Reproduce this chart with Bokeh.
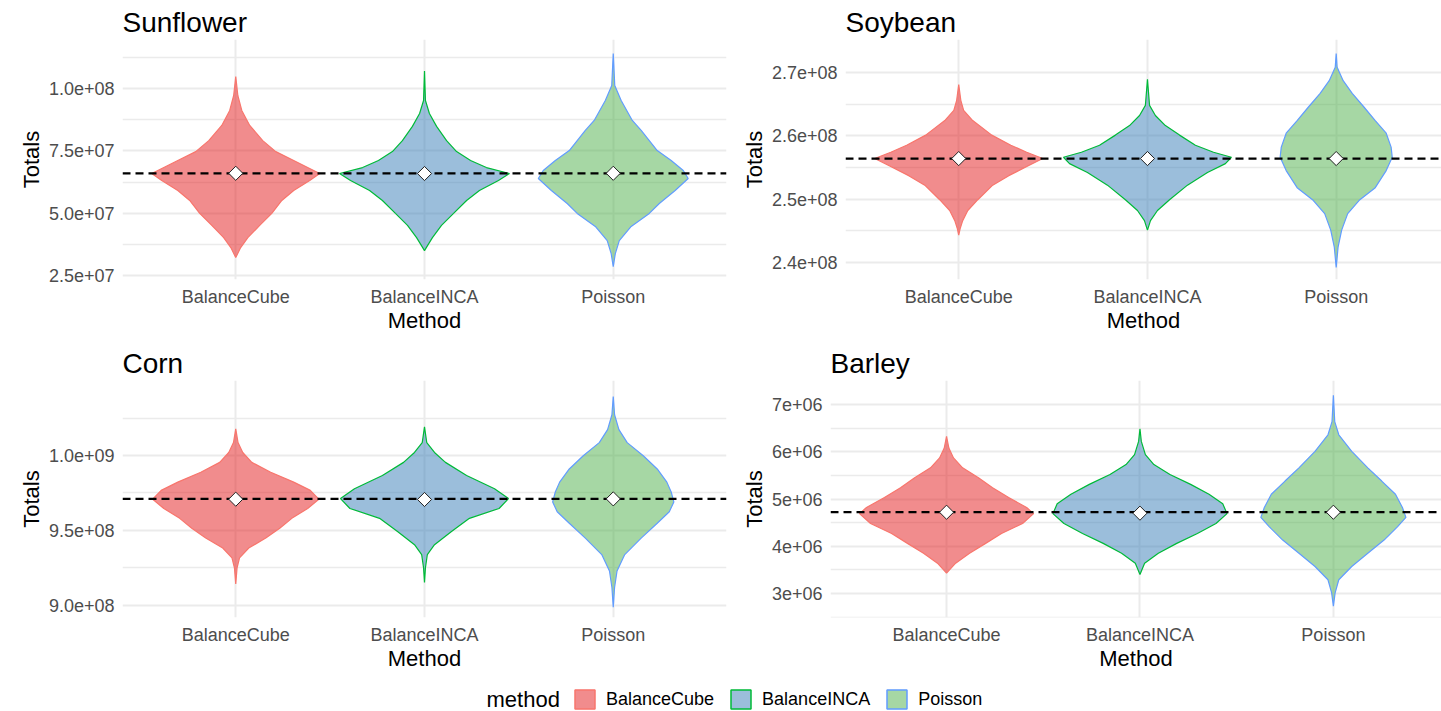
import math
from bokeh.plotting import figure
from bokeh.layouts import column, row
from bokeh.models import FixedTicker, Range1d, Span, Legend, LegendItem, Label
from bokeh.embed import file_html
from bokeh.resources import INLINE

# ---------------- data ----------------
METHODS = ["BalanceCube", "BalanceINCA", "Poisson"]
CROPS = ["Sunflower", "Soybean", "Corn", "Barley"]

# true totals (dashed lines) and estimated means (diamonds), in units of 1e6
TRUE_TOTAL = {"Sunflower": 66.0, "Soybean": 256.4, "Corn": 971.0, "Barley": 4.72}
MEANS = {
    "Sunflower": [66.0, 65.9, 66.0],
    "Soybean": [256.4, 256.4, 256.4],
    "Corn": [970.8, 970.6, 971.0],
    "Barley": [4.72, 4.70, 4.72],
}

# violin outlines: value (1e6) and half-width (category units)
SUNFLOWER_V = {
    "BalanceCube": [104.8, 97.2, 91.2, 85.2, 79.1, 74.7, 71.1, 68.3, 65.9, 63.1, 59.1, 55.1, 49.9, 45.1, 40.2, 36.2, 32.2],
    "BalanceINCA": [107.0, 95.2, 90.0, 84.8, 79.1, 74.7, 71.1, 68.3, 65.9, 63.1, 59.1, 55.1, 49.9, 45.1, 40.2, 37.0, 35.0],
    "Poisson": [114.0, 101.2, 95.2, 87.2, 83.2, 79.1, 75.1, 71.1, 67.1, 63.9, 59.1, 53.9, 49.9, 44.7, 39.0, 33.8, 28.6],
}
SUNFLOWER_W = {
    "BalanceCube": [0, .011, .032, .074, .143, .212, .307, .381, .445, .392, .307, .244, .191, .127, .064, .026, 0],
    "BalanceINCA": [0, .005, .026, .064, .117, .170, .244, .328, .450, .392, .291, .223, .154, .090, .042, .016, 0],
    "Poisson": [0, .008, .042, .101, .148, .191, .233, .307, .371, .397, .328, .244, .191, .095, .032, .011, 0],
}
SOYBEAN_V = {
    "BalanceCube": [268.1, 265.6, 264.0, 262.4, 260.1, 258.5, 257.4, 256.4, 255.3, 253.7, 252.2, 249.9, 248.2, 246.6, 245.4, 244.3],
    "BalanceINCA": [268.9, 264.8, 263.2, 261.6, 260.1, 258.5, 257.4, 256.6, 255.6, 254.2, 252.2, 249.9, 248.2, 246.6, 245.1],
    "Poisson": [273.0, 270.8, 268.7, 266.7, 264.5, 262.4, 260.4, 258.2, 256.6, 254.5, 251.8, 249.8, 247.7, 245.1, 242.4, 239.2],
}
SOYBEAN_W = {
    "BalanceCube": [0, .011, .026, .074, .175, .276, .360, .445, .371, .265, .180, .101, .048, .021, .008, 0],
    "BalanceINCA": [0, .011, .042, .095, .170, .254, .350, .445, .413, .318, .212, .117, .053, .016, 0],
    "Poisson": [0, .005, .037, .085, .148, .207, .265, .291, .297, .265, .207, .122, .061, .029, .010, 0],
}
CORN_V = {
    "BalanceCube": [1017.8, 1008.6, 1002.0, 995.4, 988.8, 982.2, 976.7, 970.8, 964.6, 958.0, 951.4, 944.8, 938.2, 931.6, 925.0, 914.1],
    "BalanceINCA": [1019.1, 1008.6, 1002.0, 995.4, 986.6, 977.8, 971.2, 964.6, 958.0, 949.2, 940.4, 933.8, 925.0, 915.1],
    "Poisson": [1039.4, 1027.2, 1017.3, 1008.6, 999.8, 991.0, 982.2, 975.6, 969.0, 962.4, 954.7, 944.8, 933.8, 922.8, 911.8, 898.6],
}
CORN_W = {
    "BalanceCube": [0, .012, .037, .085, .185, .307, .395, .440, .381, .297, .233, .159, .069, .020, .007, 0],
    "BalanceINCA": [0, .012, .053, .111, .223, .371, .445, .395, .238, .143, .053, .015, .005, 0],
    "Poisson": [0, .007, .030, .074, .159, .233, .284, .307, .321, .297, .233, .148, .061, .020, .007, 0],
}
BARLEY_V = {
    "BalanceCube": [6.324, 6.08, 5.87, 5.66, 5.45, 5.24, 5.03, 4.82, 4.69, 4.48, 4.27, 4.06, 3.85, 3.64, 3.43],
    "BalanceINCA": [6.485, 6.22, 5.94, 5.73, 5.52, 5.31, 5.10, 4.90, 4.69, 4.48, 4.27, 4.06, 3.85, 3.64, 3.40],
    "Poisson": [7.197, 6.64, 6.36, 6.01, 5.66, 5.38, 5.10, 4.82, 4.61, 4.41, 4.13, 3.85, 3.57, 3.29, 3.01, 2.73],
}
BARLEY_W = {
    "BalanceCube": [0, .012, .036, .083, .165, .238, .321, .414, .450, .393, .284, .202, .119, .047, 0],
    "BalanceINCA": [0, .007, .028, .072, .155, .262, .357, .428, .450, .393, .297, .190, .095, .024, 0],
    "Poisson": [0, .007, .028, .095, .178, .250, .321, .357, .375, .331, .262, .178, .095, .028, .009, 0],
}

# axis ticks (values in 1e6) and their labels
SUNFLOWER_TICKS = [25.0, 50.0, 75.0, 100.0]
SUNFLOWER_LABELS = ["2.5e+07", "5.0e+07", "7.5e+07", "1.0e+08"]
SUNFLOWER_MINOR = [37.5, 62.5, 87.5, 112.5]
SOYBEAN_TICKS = [240.0, 250.0, 260.0, 270.0]
SOYBEAN_LABELS = ["2.4e+08", "2.5e+08", "2.6e+08", "2.7e+08"]
SOYBEAN_MINOR = [245.0, 255.0, 265.0]
CORN_TICKS = [900.0, 950.0, 1000.0]
CORN_LABELS = ["9.0e+08", "9.5e+08", "1.0e+09"]
CORN_MINOR = [925.0, 975.0, 1025.0]
BARLEY_TICKS = [3.0, 4.0, 5.0, 6.0, 7.0]
BARLEY_LABELS = ["3e+06", "4e+06", "5e+06", "6e+06", "7e+06"]
BARLEY_MINOR = [2.5, 3.5, 4.5, 5.5, 6.5]

# ---------------- style ----------------
FILL = ["#E41A1C", "#377EB8", "#4DAF4A"]
LINE = ["#F8766D", "#00BA38", "#619CFF"]
FONT = "Liberation Sans"
GRID = "#EBEBEB"
SCALE = 1e6
POSITIONS = list(range(1, len(METHODS) + 1))


def polygon(pos, v, wd):
    xs = [pos + a for a in wd] + [pos - a for a in reversed(wd)]
    ys = [b * SCALE for b in v] + [b * SCALE for b in reversed(v)]
    return xs, ys


def panel(name, vals, wids, ticks, labels, minor, yr, xmax, w, h, left, right, top, bottom):
    p = figure(width=w, height=h, output_backend="svg", toolbar_location=None,
               x_range=Range1d(0.4, xmax), y_range=Range1d(yr[0] * SCALE, yr[1] * SCALE),
               min_border_left=left, min_border_right=right,
               min_border_top=top, min_border_bottom=bottom)
    p.outline_line_color = None
    p.background_fill_color = "white"
    p.border_fill_color = "white"
    p.title.text = name
    p.title.text_font = FONT
    p.title.text_font_size = "28px"
    p.title.text_font_style = "normal"
    p.title.text_color = "black"
    p.title.align = "left"
    p.title.standoff = 3
    p.title.offset = 0

    p.xaxis.ticker = FixedTicker(ticks=POSITIONS)
    p.xaxis.major_label_overrides = {i: m for i, m in zip(POSITIONS, METHODS)}
    yt = [int(round(t * SCALE)) for t in ticks]
    p.yaxis.ticker = FixedTicker(ticks=yt, minor_ticks=[m * SCALE for m in minor])
    p.yaxis.major_label_overrides = {t: l for t, l in zip(yt, labels)}
    p.xaxis.axis_label = "Method"
    p.yaxis.axis_label = "Totals"
    for ax in (p.xaxis[0], p.yaxis[0]):
        ax.axis_line_color = None
        ax.major_tick_line_color = None
        ax.minor_tick_line_color = None
        ax.major_tick_out = 0
        ax.major_tick_in = 0
        ax.minor_tick_out = 0
        ax.minor_tick_in = 0
        ax.major_label_text_font = FONT
        ax.major_label_text_font_size = "18px"
        ax.major_label_text_color = "#4D4D4D"
        ax.axis_label_text_font = FONT
        ax.axis_label_text_font_size = "22px"
        ax.axis_label_text_font_style = "normal"
        ax.axis_label_text_color = "black"
    p.xaxis.major_label_standoff = 7
    p.xaxis.axis_label_standoff = -2
    p.yaxis.major_label_standoff = 8
    p.yaxis.axis_label_standoff = 2

    p.xgrid.grid_line_color = GRID
    p.xgrid.grid_line_width = 2
    p.ygrid.grid_line_color = GRID
    p.ygrid.grid_line_width = 2
    p.ygrid.minor_grid_line_color = GRID
    p.ygrid.minor_grid_line_width = 1.5

    for j, m in enumerate(METHODS):
        xs, ys = polygon(POSITIONS[j], vals[m], wids[m])
        p.patch(xs, ys, fill_color=FILL[j], fill_alpha=0.5,
                line_color=LINE[j], line_width=1.2)

    p.add_layout(Span(location=TRUE_TOTAL[name] * SCALE, dimension="width",
                      line_color="black", line_dash="8 5", line_width=2.2))
    p.scatter(POSITIONS, [mm * SCALE for mm in MEANS[name]], marker="square",
              angle=math.pi / 4, size=10, fill_color="white", line_color="#222222",
              line_width=1, level="overlay")
    return p


f1 = panel("Sunflower", SUNFLOWER_V, SUNFLOWER_W, SUNFLOWER_TICKS, SUNFLOWER_LABELS,
           SUNFLOWER_MINOR, (23.4, 119.66), 3.6, 735, 344, 122, 9, 39, 65)
f2 = panel("Soybean", SOYBEAN_V, SOYBEAN_W, SOYBEAN_TICKS, SOYBEAN_LABELS,
           SOYBEAN_MINOR, (237.3, 275.2), 3.558, 706, 344, 110, 0, 39, 65)
f3 = panel("Corn", CORN_V, CORN_W, CORN_TICKS, CORN_LABELS,
           CORN_MINOR, (891.75, 1050.1), 3.6, 735, 338, 122, 9, 33, 65)
f4 = panel("Barley", BARLEY_V, BARLEY_W, BARLEY_TICKS, BARLEY_LABELS,
           BARLEY_MINOR, (2.49, 7.51), 3.559, 706, 338, 95, 0, 33, 65)

# legend strip (legend renderers carry the Sunflower violins, outside the visible range)
lf = figure(width=1441, height=29, output_backend="svg", toolbar_location=None,
            x_range=Range1d(0, 1), y_range=Range1d(0, 1), x_axis_type=None,
            y_axis_type=None, min_border=0, title=None)
lf.outline_line_color = None
lf.grid.visible = False
items = []
for j, m in enumerate(METHODS):
    xs, ys = polygon(POSITIONS[j], SUNFLOWER_V[m], SUNFLOWER_W[m])
    r = lf.patch(xs, ys, fill_color=FILL[j], fill_alpha=0.5, line_color=LINE[j], line_width=1.5)
    items.append(LegendItem(label=m, renderers=[r]))
leg = Legend(items=items, location=(572, 0), orientation="horizontal",
             glyph_width=25, glyph_height=24, label_standoff=9, spacing=14,
             padding=0, margin=0, border_line_color=None, background_fill_alpha=0,
             label_text_font=FONT, label_text_font_size="18px", label_height=24,
             label_text_color="black")
lf.add_layout(leg)
lf.add_layout(Label(x=486, y=12, x_units="screen", y_units="screen", text="method",
                    text_font=FONT, text_font_size="22px", text_baseline="middle",
                    text_color="black"))

layout = column(row(f1, f2), row(f3, f4), lf)
open("out.html", "w").write(file_html(layout, INLINE))
